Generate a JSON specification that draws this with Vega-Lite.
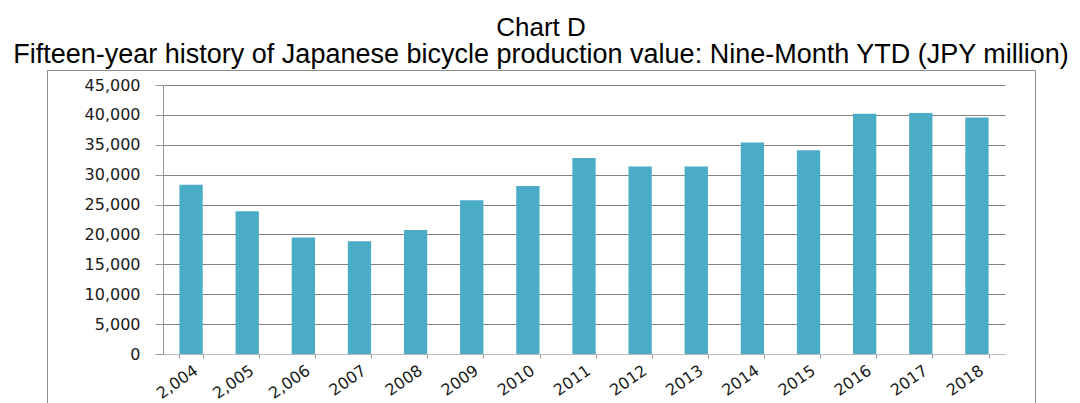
{
  "$schema": "https://vega.github.io/schema/vega-lite/v6.json",
  "width": 988,
  "height": 340,
  "autosize": {"type": "none"},
  "padding": {"left": 47, "top": 70, "right": 45, "bottom": 0},
  "title": {
    "text": "Chart D",
    "subtitle": "Fifteen-year history of Japanese bicycle production value: Nine-Month YTD (JPY million)",
    "font": "Liberation Sans",
    "fontSize": 26,
    "fontWeight": "normal",
    "color": "#000000",
    "subtitleFont": "Liberation Sans",
    "subtitleFontSize": 27,
    "subtitleColor": "#000000",
    "subtitlePadding": 1,
    "anchor": "middle",
    "frame": "group",
    "offset": 2
  },
  "data": {
    "values": [
      {"year": "2,004", "value": 28300},
      {"year": "2,005", "value": 23900},
      {"year": "2,006", "value": 19500},
      {"year": "2007", "value": 18850},
      {"year": "2008", "value": 20750},
      {"year": "2009", "value": 25700},
      {"year": "2010", "value": 28100},
      {"year": "2011", "value": 32800},
      {"year": "2012", "value": 31350},
      {"year": "2013", "value": 31350},
      {"year": "2014", "value": 35400},
      {"year": "2015", "value": 34100},
      {"year": "2016", "value": 40200},
      {"year": "2017", "value": 40300},
      {"year": "2018", "value": 39550}
    ]
  },
  "mark": {"type": "bar", "color": "#4BACC6"},
  "encoding": {
    "x": {
      "field": "year",
      "type": "nominal",
      "sort": null,
      "scale": {"range": [116, 958], "paddingInner": 0.585, "paddingOuter": 0.2925},
      "axis": {
        "title": null,
        "offset": -56,
        "tickBand": "extent",
        "tickSize": 4,
        "tickColor": "#999999",
        "domainColor": "#bbbbbb",
        "labelAngle": -35,
        "labelFont": "DejaVu Sans",
        "labelFontSize": 16,
        "labelColor": "#1a1a1a",
        "labelPadding": 4,
        "grid": false
      }
    },
    "y": {
      "field": "value",
      "type": "quantitative",
      "scale": {"domain": [0, 45000], "range": [284, 15], "nice": false},
      "axis": {
        "title": null,
        "offset": -116,
        "values": [0, 5000, 10000, 15000, 20000, 25000, 30000, 35000, 40000, 45000],
        "format": ",.0f",
        "labelFont": "DejaVu Sans",
        "labelFontSize": 16,
        "labelColor": "#1a1a1a",
        "labelPadding": 15,
        "tickSize": 8,
        "tickColor": "#999999",
        "domainColor": "#999999",
        "grid": true,
        "gridColor": "#828282",
        "gridWidth": 1.2
      }
    }
  },
  "config": {"view": {"stroke": "#8c8c8c", "strokeWidth": 1}}
}
